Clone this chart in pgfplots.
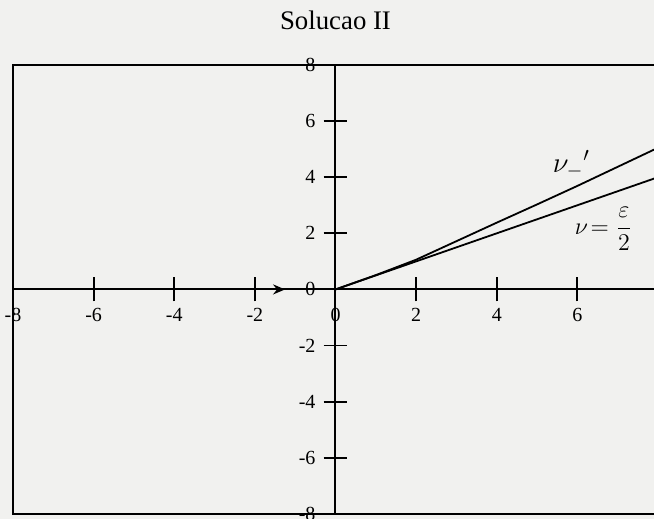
\documentclass[border=0pt]{standalone}
\usepackage{fontspec}
\setmainfont{Liberation Serif}
\usepackage{pgfplots}
\pgfplotsset{compat=1.18}
\usetikzlibrary{arrows.meta,backgrounds}
\definecolor{paper}{RGB}{241,241,239}

\begin{document}
\begin{tikzpicture}
\begin{axis}[
  x=20.16pt, y=14.03pt,
  xmin=-8, xmax=8, ymin=-8, ymax=8,
  axis lines=middle,
  axis line style={-, line width=1pt},
  hide obscured x ticks=false, hide obscured y ticks=false,
  xtick={-8,-6,-4,-2,0,2,4,6},
  ytick={-8,-6,-4,-2,0,2,4,6,8},
  xticklabels={-8,-6,-4,-2,0,2,4,6},
  yticklabels={-8,-6,-4,-2,0,2,4,6,8},
  tick align=center, major tick length=12pt,
  tick style={line width=0.9pt, black},
  ticklabel style={font=\fontsize{10}{12}\selectfont},
  xticklabel style={anchor=north, yshift=0pt},
  yticklabel style={anchor=east, xshift=-0.5pt},
  clip=false,
]
  % straight line nu = epsilon/2
  \addplot[black, line width=0.9pt] coordinates {(0,0) (8,4)};
  % upper line nu'
  \addplot[black, line width=0.9pt] coordinates {
    (0,0) (1,0.51) (2,1.06) (3,1.72) (4,2.38) (5,3.03) (6,3.69) (7,4.37) (8,5.05)};
  % arrowhead on the horizontal axis
  \addplot[black, line width=0.9pt, -{Stealth[length=6pt,width=5pt]}]
    coordinates {(-1.7,0) (-1.25,0)};
  \node[font=\Large] at (axis cs:5.85,4.45) {$\nu_{-}{}^{\prime}$};
  \node[font=\large] at (axis cs:6.65,2.15) {$\nu\!=\displaystyle\frac{\varepsilon}{2}$};
  \node[font=\fontsize{13.4}{16}\selectfont] at ([yshift=22.5pt]rel axis cs:0.5,1) {Solucao II};
  \draw[line width=1pt] (rel axis cs:0,0) rectangle (rel axis cs:1,1);
  \coordinate (sw) at (rel axis cs:0,0);
  \coordinate (ne) at (rel axis cs:1,1);
\end{axis}
\pgfresetboundingbox
\path[use as bounding box] ([xshift=-6.5pt,yshift=-2.5pt]sw) rectangle ([xshift=-2pt,yshift=32.5pt]ne);
\begin{scope}[on background layer]
  \fill[paper] ([xshift=-6.5pt,yshift=-2.5pt]sw) rectangle ([xshift=-2pt,yshift=32.5pt]ne);
\end{scope}
\end{tikzpicture}
\end{document}
